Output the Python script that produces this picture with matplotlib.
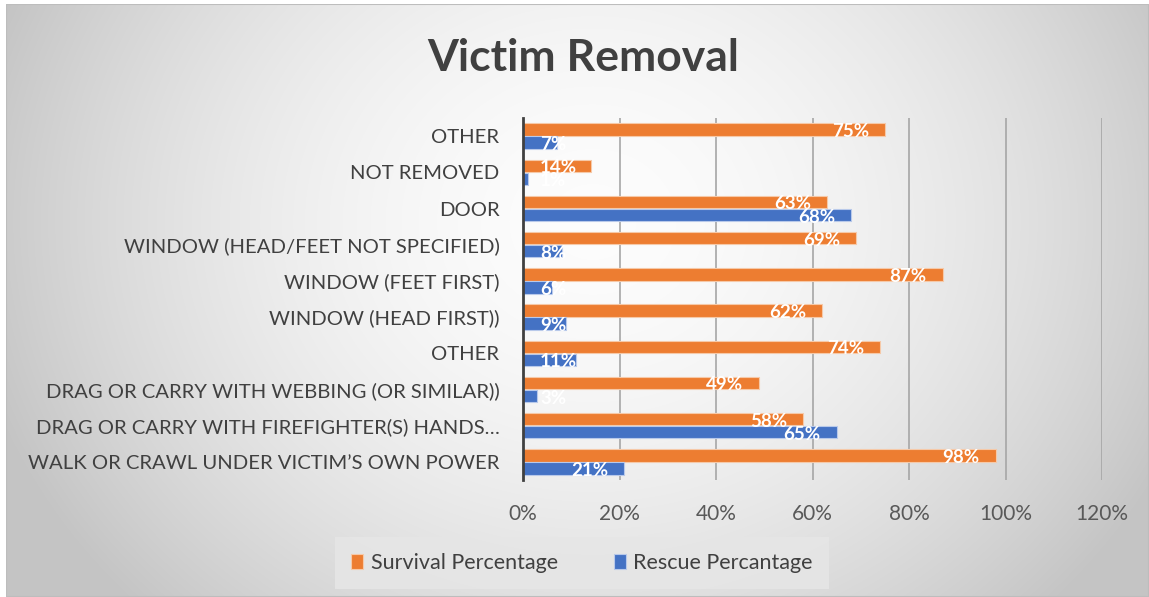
import matplotlib
matplotlib.use("Agg")
import matplotlib.pyplot as plt
import numpy as np
from matplotlib.patches import Rectangle

categories = [
    "OTHER",
    "NOT REMOVED",
    "DOOR",
    "WINDOW (HEAD/FEET NOT SPECIFIED)",
    "WINDOW (FEET FIRST)",
    "WINDOW (HEAD FIRST))",
    "OTHER",
    "DRAG OR CARRY WITH WEBBING (OR SIMILAR))",
    "DRAG OR CARRY WITH FIREFIGHTER(S) HANDS…",
    "WALK OR CRAWL UNDER VICTIM\u2019S OWN POWER",
]
survival = [0.75, 0.14, 0.63, 0.69, 0.87, 0.62, 0.74, 0.49, 0.58, 0.98]
rescue = [0.07, 0.01, 0.68, 0.08, 0.06, 0.09, 0.11, 0.03, 0.65, 0.21]
xticks = [0, 0.2, 0.4, 0.6, 0.8, 1.0, 1.2]
xticklabels = ["0%", "20%", "40%", "60%", "80%", "100%", "120%"]
series_names = ["Survival Percentage", "Rescue Percantage"]

ORANGE = "#ED7D31"
BLUE = "#4472C4"
FONT = ["Lato", "DejaVu Sans"]

W, H = 1149, 597
fig = plt.figure(figsize=(W / 100, H / 100), dpi=100)
fig.patch.set_facecolor("white")

# background gradient panel
bg = fig.add_axes([6 / W, 0, 1 - 6 / W, 1 - 4 / H], zorder=-10)
yy, xx = np.mgrid[0:600, 0:1150]
cx, cy = 590, 220
r = np.sqrt(((xx - cx) / 640.0) ** 2 + ((yy - cy) / 560.0) ** 2)
r = np.clip(r, 0, 1)
val = 0.99 - 0.22 * r ** 1.8
img = np.dstack([val, val, val])
bg.imshow(img, aspect="auto", extent=[0, 1, 0, 1], origin="upper")
bg.set_xlim(0, 1); bg.set_ylim(0, 1)
for s in bg.spines.values():
    s.set_visible(False)
bg.add_patch(Rectangle((0, 0), 1, 1, transform=bg.transAxes, fill=False,
                       edgecolor="#bdbdbd", linewidth=1.5))
bg.set_xticks([]); bg.set_yticks([])

ax = fig.add_axes([523 / W, 1 - 480 / H, 579 / W, 362 / H])
ax.patch.set_alpha(0)
n = len(categories)
ypos = np.arange(n)[::-1]
bh = 0.34
off = 0.18
ax.barh(ypos + off, survival, height=bh, color=ORANGE, edgecolor="#f6c9a8",
        linewidth=0.8, zorder=3, label=series_names[0])
ax.barh(ypos - off, rescue, height=bh, color=BLUE, edgecolor="#b8c9ea",
        linewidth=0.8, zorder=3, label=series_names[1])

ax.set_xlim(0, 1.2)
ax.set_ylim(-0.5, n - 0.5)
ax.set_xticks(xticks)
ax.set_xticklabels(xticklabels, fontsize=15, color="#595959", family=FONT)
ax.set_yticks(ypos)
ax.set_yticklabels(categories, fontsize=14.6, color="#404040", family=FONT)
ax.tick_params(axis="both", length=0)
ax.tick_params(axis="y", pad=17)
ax.tick_params(axis="x", pad=17)
for s in ["top", "right", "bottom"]:
    ax.spines[s].set_visible(False)
ax.spines["left"].set_color("#404040")
ax.spines["left"].set_linewidth(2)
ax.spines["left"].set_zorder(5)
for xv in xticks[1:]:
    ax.axvline(xv, color="#a6a6a6", linewidth=1.2, zorder=1)

# data labels
fig.canvas.draw()
renderer = fig.canvas.get_renderer()
pad_px = 16
min_left_px = 17
to_px = ax.transData
for vals, dy in ((survival, off), (rescue, -off)):
    for v, y in zip(vals, ypos):
        lbl = f"{round(v * 100):d}%"
        xpx, ypx = to_px.transform((v, y + dy))
        x0px, _ = to_px.transform((0, 0))
        t = ax.text(0, 0, lbl, color="white", fontsize=13.5, fontweight="bold",
                    family=FONT, ha="right", va="center", zorder=6)
        t.set_transform(None)
        t.set_position((xpx - pad_px, ypx - 2))
        bb = t.get_window_extent(renderer)
        if bb.x0 < x0px + min_left_px:
            t.set_ha("left")
            t.set_position((x0px + min_left_px, ypx - 2))

# title
fig.text(583 / W, 1 - 58 / H, "Victim Removal", ha="center", va="center",
         fontsize=32, fontweight="bold", color="#404040", family=FONT)

# legend
leg = fig.legend(loc="center", bbox_to_anchor=(582 / W, 1 - 563 / H),
                 ncol=2, frameon=True, handlelength=0.55,
                 handleheight=0.7, handletextpad=0.35, columnspacing=2.6,
                 borderpad=0.75, borderaxespad=0,
                 prop={"family": FONT, "size": 15.5})
frame = leg.get_frame()
frame.set_facecolor("#e6e6e6")
frame.set_edgecolor("none")
frame.set_alpha(0.85)
frame.set_boxstyle("square", pad=0)
for t in leg.get_texts():
    t.set_color("#404040")

fig.savefig("out.png", dpi=100)
